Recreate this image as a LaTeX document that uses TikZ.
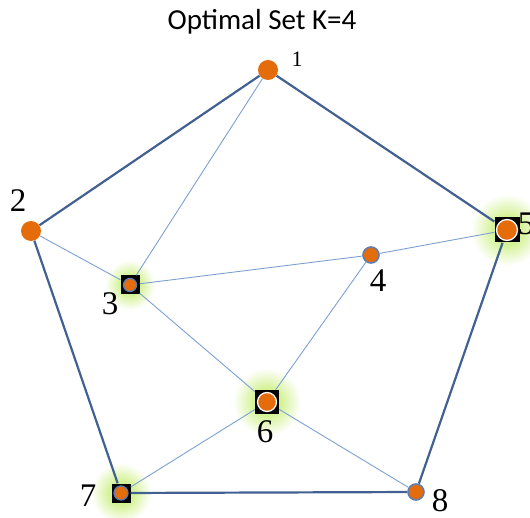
\documentclass[tikz,border=0pt]{standalone}
\usepackage{fontspec}
\setmainfont{Liberation Serif}
\newfontfamily\titlefont{Carlito}
\definecolor{dotorange}{RGB}{228,108,10}
\definecolor{rimblue}{RGB}{66,96,146}
\definecolor{chordblue}{RGB}{125,160,210}
\definecolor{ringblue}{RGB}{95,125,175}
\definecolor{glowgreen}{RGB}{212,242,150}
\pgfdeclareradialshading{glowshade}{\pgfpoint{0bp}{0bp}}{color(0bp)=(glowgreen);color(10bp)=(glowgreen);color(25bp)=(white);color(50bp)=(white)}
\pgfdeclarelayer{glow}
\pgfsetlayers{glow,main}
\tikzset{
	vert/.style={circle,fill=dotorange,inner sep=0,minimum size=20},
	vertring/.style={circle,fill=dotorange,draw=ringblue,line width=1.6,inner sep=0,minimum size=16},
	pick/.style={rectangle,fill=black,inner sep=0,minimum size=#1},
	pickdot/.style={circle,fill=dotorange,inner sep=0,line width=1.3},
	rim/.style={draw=rimblue,line width=2.2},
	chord/.style={draw=chordblue,line width=0.9},
	lbl/.style={inner sep=0,font=\fontsize{33}{36}\selectfont}
}
\begin{document}
\begin{tikzpicture}[x=1pt,y=-1pt]
		\useasboundingbox (0,0) rectangle (530,518);
		\node[anchor=base,inner sep=0,font=\titlefont\fontsize{29}{32}\selectfont] (title) at (262,30) {Optimal Set K=4};
		\node[vert] (v1) at (268,70) {};
		\node[vert] (v2) at (31,231) {};
		\node[vertring] (v4) at (371,255) {};
		\node[vertring] (v8) at (416,492) {};
		\foreach \n/\x/\y/\s/\d/\c/\g in {3/130/285/19/13/ringblue/25,5/507/230/25/21/white/36,6/267/402/24/19/white/34,7/121/493/19/14/ringblue/30}{
			\node[pick=\s] (v\n) at (\x,\y) {};
			\node[pickdot,draw=\c,minimum size=\d] (d\n) at (v\n) {};
			\begin{pgfonlayer}{glow}
				\shade[shading=glowshade] (v\n) circle (\g);
			\end{pgfonlayer}
		}
		\draw[rim] (v1)--(v2) (v2)--(v7) (v7)--(v8) (v8)--(v5) (v5)--(v1);
		\draw[chord] (v1)--(v3) (v2)--(v3) (v3)--(v4) (v4)--(v5) (v3)--(v6) (v4)--(v6) (v6)--(v7) (v6)--(v8);
		\node[lbl,font=\fontsize{22}{24}\selectfont] (l1) at (297,59) {1};
		\foreach \n/\x/\y in {2/18/201,3/110/304,4/378/281,5/526/224,6/265/432,7/88/496,8/440/501}
			\node[lbl] (l\n) at (\x,\y) {\n};
	\end{tikzpicture}
\end{document}
